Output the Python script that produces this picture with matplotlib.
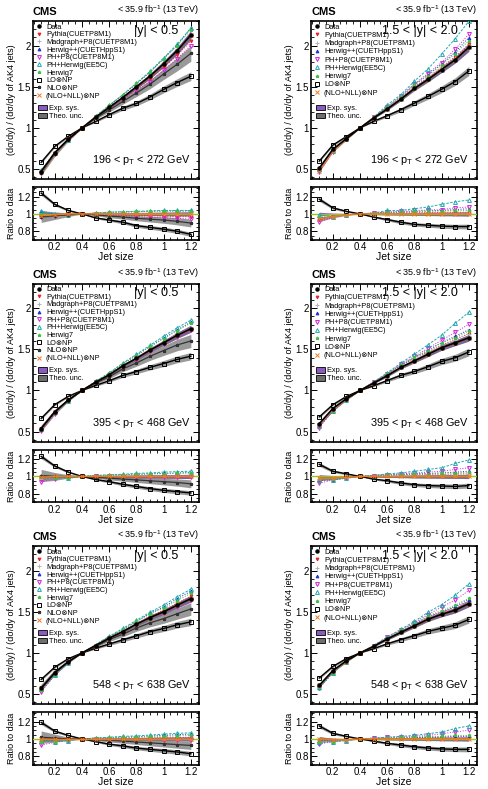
import matplotlib.pyplot as plt
import numpy as np
from matplotlib.ticker import MultipleLocator, FuncFormatter
from matplotlib.patches import Patch
from matplotlib.lines import Line2D

plt.rcParams['font.family'] = ['Liberation Sans', 'DejaVu Sans']

jet_size = [0.1, 0.2, 0.3, 0.4, 0.5, 0.6, 0.7, 0.8, 0.9, 1.0, 1.1, 1.2]

# relative uncertainties (half widths)
exp_sys = [0.02, 0.01, 0.005, 0.0, 0.006, 0.01, 0.012, 0.015, 0.017, 0.02, 0.022, 0.025]
lo_unc = [0.02, 0.015, 0.01, 0.0, 0.01, 0.015, 0.02, 0.022, 0.025, 0.028, 0.03, 0.032]
nlo_unc = [0.07, 0.045, 0.02, 0.0, 0.01, 0.02, 0.025, 0.03, 0.035, 0.04, 0.045, 0.05]
nll_unc = [0.03, 0.015, 0.008, 0.0, 0.008, 0.012, 0.015, 0.018, 0.02, 0.02, 0.02, 0.02]

# --- 196 < pT < 272, |y| < 0.5
a_data = [0.47, 0.70, 0.865, 1.0, 1.13, 1.25, 1.37, 1.50, 1.63, 1.78, 1.94, 2.13]
a_lo = [1.24, 1.11, 1.04, 1.0, 0.955, 0.93, 0.905, 0.865, 0.845, 0.825, 0.80, 0.765]
a_nlo = [0.97, 0.98, 0.99, 1.0, 0.99, 0.975, 0.965, 0.95, 0.94, 0.93, 0.915, 0.895]
a_nll = [0.98, 0.99, 1.0, 1.0, 1.0, 1.0, 1.0, 1.0, 1.0, 1.0, 1.0, 1.0]
a_pythia = [0.97, 0.98, 0.99, 1.0, 1.0, 0.995, 0.99, 0.985, 0.98, 0.975, 0.97, 0.965]
a_madgraph = [0.98, 0.99, 0.995, 1.0, 1.0, 1.0, 1.0, 1.0, 1.0, 1.0, 1.0, 1.0]
a_herwigpp = [1.03, 1.0, 0.99, 1.0, 1.01, 1.02, 1.02, 1.025, 1.03, 1.035, 1.035, 1.04]
a_php8 = [0.97, 0.98, 0.99, 1.0, 1.0, 0.99, 0.98, 0.97, 0.96, 0.955, 0.95, 0.94]
a_phherwig = [1.03, 1.0, 0.99, 1.0, 1.01, 1.02, 1.025, 1.03, 1.035, 1.04, 1.04, 1.04]
a_herwig7 = [1.0, 0.99, 0.99, 1.0, 1.01, 1.02, 1.025, 1.03, 1.03, 1.035, 1.03, 1.03]

# --- 196 < pT < 272, 1.5 < |y| < 2.0
b_data = [0.51, 0.74, 0.87, 1.0, 1.12, 1.23, 1.35, 1.48, 1.59, 1.71, 1.83, 1.98]
b_lo = [1.17, 1.07, 1.03, 1.0, 0.965, 0.935, 0.905, 0.88, 0.87, 0.86, 0.855, 0.855]
b_nll = [0.94, 0.97, 0.99, 1.0, 1.0, 1.0, 1.0, 1.0, 1.0, 1.0, 1.0, 1.0]
b_pythia = [0.93, 0.97, 0.99, 1.0, 1.005, 1.01, 1.01, 1.015, 1.015, 1.02, 1.02, 1.02]
b_madgraph = [0.97, 0.98, 0.99, 1.0, 1.0, 1.005, 1.01, 1.01, 1.01, 1.01, 1.01, 1.01]
b_herwigpp = [0.95, 0.97, 0.99, 1.0, 1.01, 1.02, 1.02, 1.03, 1.035, 1.04, 1.05, 1.06]
b_php8 = [0.91, 0.96, 0.99, 1.0, 1.01, 1.02, 1.03, 1.04, 1.045, 1.05, 1.07, 1.08]
b_phherwig = [0.99, 0.97, 0.99, 1.0, 1.01, 1.04, 1.04, 1.06, 1.08, 1.11, 1.14, 1.16]
b_herwig7 = [0.96, 0.97, 0.99, 1.0, 1.01, 1.02, 1.02, 1.03, 1.03, 1.035, 1.04, 1.04]

# --- 395 < pT < 468, |y| < 0.5
c_data = [0.537, 0.74, 0.885, 1.0, 1.10, 1.19, 1.30, 1.39, 1.49, 1.58, 1.67, 1.75]
c_lo = [1.23, 1.12, 1.05, 1.0, 0.965, 0.94, 0.91, 0.885, 0.86, 0.84, 0.825, 0.81]
c_nlo = [1.01, 1.0, 1.0, 1.0, 0.99, 0.98, 0.97, 0.96, 0.95, 0.94, 0.93, 0.915]
c_nll = [0.99, 1.0, 1.0, 1.0, 1.0, 1.0, 1.0, 1.0, 1.0, 1.0, 1.0, 1.0]
c_pythia = [0.97, 0.99, 0.99, 1.0, 1.0, 1.0, 1.0, 1.0, 1.0, 1.0, 1.0, 0.995]
c_madgraph = [0.97, 0.98, 0.99, 1.0, 1.0, 1.0, 1.0, 1.005, 1.005, 1.005, 1.005, 1.005]
c_herwigpp = [1.0, 0.99, 0.99, 1.0, 1.01, 1.015, 1.02, 1.025, 1.03, 1.035, 1.04, 1.045]
c_php8 = [0.94, 0.97, 0.99, 1.0, 1.0, 0.995, 0.995, 0.99, 0.99, 0.99, 0.99, 0.99]
c_phherwig = [1.0, 0.99, 0.98, 1.0, 1.01, 1.02, 1.025, 1.035, 1.04, 1.05, 1.055, 1.06]
c_herwig7 = [0.99, 0.98, 0.98, 1.0, 1.01, 1.015, 1.02, 1.025, 1.03, 1.03, 1.035, 1.04]

# --- 395 < pT < 468, 1.5 < |y| < 2.0
d_data = [0.595, 0.78, 0.90, 1.0, 1.09, 1.18, 1.28, 1.36, 1.44, 1.52, 1.58, 1.64]
d_lo = [1.14, 1.06, 1.03, 1.0, 0.97, 0.95, 0.925, 0.905, 0.895, 0.89, 0.885, 0.895]
d_nll = [0.98, 0.98, 0.99, 1.0, 1.0, 1.0, 1.0, 1.0, 1.0, 1.0, 1.0, 1.0]
d_pythia = [0.95, 0.97, 0.99, 1.0, 1.01, 1.01, 1.02, 1.02, 1.02, 1.02, 1.03, 1.03]
d_madgraph = [0.97, 0.98, 0.99, 1.0, 1.0, 1.01, 1.01, 1.01, 1.02, 1.02, 1.02, 1.03]
d_herwigpp = [0.96, 0.96, 0.99, 1.0, 1.01, 1.02, 1.02, 1.03, 1.035, 1.04, 1.05, 1.06]
d_php8 = [0.92, 0.96, 0.98, 1.0, 1.01, 1.02, 1.03, 1.04, 1.05, 1.06, 1.08, 1.10]
d_phherwig = [0.96, 0.96, 0.98, 1.0, 1.01, 1.03, 1.04, 1.06, 1.08, 1.10, 1.15, 1.19]
d_herwig7 = [0.97, 0.97, 0.99, 1.0, 1.01, 1.02, 1.02, 1.03, 1.03, 1.04, 1.04, 1.05]

# --- 548 < pT < 638, |y| < 0.5
e_data = [0.57, 0.76, 0.895, 1.0, 1.09, 1.18, 1.26, 1.35, 1.43, 1.50, 1.58, 1.66]
e_lo = [1.19, 1.09, 1.04, 1.0, 0.97, 0.94, 0.92, 0.895, 0.88, 0.865, 0.85, 0.83]
e_nlo = [1.02, 1.01, 1.0, 1.0, 0.99, 0.985, 0.975, 0.965, 0.955, 0.945, 0.935, 0.925]
e_nll = [1.0, 1.0, 1.0, 1.0, 1.0, 1.0, 1.0, 1.0, 1.0, 1.0, 1.0, 1.0]
e_pythia = [0.96, 0.98, 0.99, 1.0, 1.0, 1.005, 1.01, 1.01, 1.01, 1.015, 1.015, 1.02]
e_madgraph = [0.95, 0.97, 0.99, 1.0, 1.0, 1.0, 1.0, 1.0, 1.0, 1.0, 1.0, 1.0]
e_herwigpp = [0.99, 0.97, 0.99, 1.0, 1.01, 1.015, 1.02, 1.025, 1.035, 1.04, 1.05, 1.055]
e_php8 = [0.93, 0.96, 0.99, 1.0, 1.0, 1.0, 0.995, 0.995, 0.995, 0.99, 0.99, 0.99]
e_phherwig = [0.98, 0.97, 0.98, 1.0, 1.01, 1.02, 1.03, 1.035, 1.045, 1.055, 1.065, 1.07]
e_herwig7 = [0.97, 0.97, 0.99, 1.0, 1.01, 1.015, 1.02, 1.025, 1.03, 1.03, 1.035, 1.04]

# --- 548 < pT < 638, 1.5 < |y| < 2.0
f_data = [0.605, 0.785, 0.905, 1.0, 1.08, 1.17, 1.25, 1.33, 1.41, 1.47, 1.52, 1.60]
f_lo = [1.15, 1.065, 1.03, 1.0, 0.975, 0.95, 0.93, 0.91, 0.895, 0.885, 0.88, 0.88]
f_nll = [1.0, 0.99, 0.99, 1.0, 1.0, 1.0, 1.0, 1.0, 1.0, 1.0, 1.0, 1.0]
f_pythia = [0.98, 0.98, 0.99, 1.0, 1.0, 1.01, 1.01, 1.01, 1.02, 1.02, 1.02, 1.02]
f_madgraph = [0.96, 0.97, 0.99, 1.0, 1.0, 1.0, 1.01, 1.01, 1.01, 1.01, 1.02, 1.02]
f_herwigpp = [0.95, 0.97, 0.99, 1.0, 1.005, 1.01, 1.01, 1.015, 1.02, 1.02, 1.03, 1.03]
f_php8 = [0.94, 0.97, 0.99, 1.0, 1.01, 1.02, 1.02, 1.03, 1.04, 1.06, 1.08, 1.10]
f_phherwig = [0.96, 0.97, 0.98, 1.0, 1.01, 1.02, 1.03, 1.04, 1.06, 1.08, 1.12, 1.15]
f_herwig7 = [0.96, 0.97, 0.99, 1.0, 1.0, 1.01, 1.02, 1.02, 1.03, 1.03, 1.04, 1.04]

pt_labels = ['196 < p$_{\\mathregular{T}}$ < 272 GeV', '395 < p$_{\\mathregular{T}}$ < 468 GeV',
             '548 < p$_{\\mathregular{T}}$ < 638 GeV']
y_labels = ['|y| < 0.5', '1.5 < |y| < 2.0']

panels = [
    (0, 0, a_data, a_lo, a_nlo, a_nll, a_pythia, a_madgraph, a_herwigpp, a_php8, a_phherwig, a_herwig7),
    (0, 1, b_data, b_lo, None, b_nll, b_pythia, b_madgraph, b_herwigpp, b_php8, b_phherwig, b_herwig7),
    (1, 0, c_data, c_lo, c_nlo, c_nll, c_pythia, c_madgraph, c_herwigpp, c_php8, c_phherwig, c_herwig7),
    (1, 1, d_data, d_lo, None, d_nll, d_pythia, d_madgraph, d_herwigpp, d_php8, d_phherwig, d_herwig7),
    (2, 0, e_data, e_lo, e_nlo, e_nll, e_pythia, e_madgraph, e_herwigpp, e_php8, e_phherwig, e_herwig7),
    (2, 1, f_data, f_lo, None, f_nll, f_pythia, f_madgraph, f_herwigpp, f_php8, f_phherwig, f_herwig7),
]

# name, color, marker, markersize, mfc, linestyle
mc_styles = [
    ('Pythia(CUETP8M1)', '#e8202a', 'v', 2.0, None, ':'),
    ('Madgraph+P8(CUETP8M1)', '#b4b4b4', '+', 2.3, None, ':'),
    ('Herwig++(CUETHppS1)', '#2030d0', '^', 2.0, None, ':'),
    ('PH+P8(CUETP8M1)', '#d020d8', 'v', 2.8, 'none', ':'),
    ('PH+Herwig(EE5C)', '#20a8b0', '^', 2.8, 'none', (0, (2.5, 1.5))),
    ('Herwig7', '#40c040', '*', 2.3, None, ':'),
]

PURPLE = '#8a5cc0'
GRAY = '#6e6e6e'

W, H = 489, 789
fig = plt.figure(figsize=(W / 100, H / 100), dpi=100)

fmt = FuncFormatter(lambda v, p: '%g' % round(v, 3))


def style_ax(ax):
    ax.tick_params(which='both', direction='in', top=True, right=True, labelsize=7, pad=1.5)
    ax.tick_params(which='major', length=4, width=0.7)
    ax.tick_params(which='minor', length=2, width=0.6)
    for s in ax.spines.values():
        s.set_linewidth(1.2)
    ax.yaxis.set_major_formatter(fmt)
    ax.xaxis.set_major_formatter(fmt)


x = np.array(jet_size)
for row, col, data, lo, nlo, nll, *mcs in panels:
    data = np.array(data)
    left = 33 if col == 0 else 311
    top = 21 + 262.5 * row
    ax = fig.add_axes([left / W, 1 - (top + 158) / H, 166 / W, 158 / H])
    rax = fig.add_axes([left / W, 1 - (top + 219) / H, 166 / W, 53 / H])

    # bands
    e = np.array(exp_sys)
    ax.fill_between(x, data * (1 - e), data * (1 + e), color=PURPLE, lw=0, zorder=2)
    rax.fill_between(x, 1 - e, 1 + e, color=PURPLE, lw=0, zorder=2)
    theo = [(lo, lo_unc), (nll, nll_unc)]
    if nlo is not None:
        theo.append((nlo, nlo_unc))
    for r, u in theo:
        r = np.array(r)
        u = np.array(u)
        ax.fill_between(x, data * r * (1 - u), data * r * (1 + u), color=GRAY, alpha=0.7, lw=0, zorder=2)
        rax.fill_between(x, r * (1 - u), r * (1 + u), color=GRAY, alpha=0.7, lw=0, zorder=2)

    rax.axhline(1.0, color='#a0c020', lw=1.0, zorder=3)

    # MC predictions
    for (name, c, m, ms, mfc, ls), r in zip(mc_styles, mcs):
        r = np.array(r)
        kw = dict(color=c, marker=m, ms=ms, lw=0.7, ls=ls, mew=0.7, zorder=4)
        if mfc is not None:
            kw['mfc'] = mfc
        ax.plot(x, data * r, **kw)
        rax.plot(x, r, **kw)

    # theory lines
    lo = np.array(lo)
    ax.plot(x, data * lo, color='black', marker='s', ms=2.6, mfc='none', mew=0.7, lw=1.0, zorder=5)
    rax.plot(x, lo, color='black', marker='s', ms=2.6, mfc='none', mew=0.7, lw=1.0, zorder=5)
    if nlo is not None:
        nlo = np.array(nlo)
        ax.plot(x, data * nlo, color='#333333', marker='*', ms=2.2, lw=0.9, zorder=5)
        rax.plot(x, nlo, color='#333333', marker='*', ms=2.2, lw=0.9, zorder=5)
    nll = np.array(nll)
    ax.plot(x, data * nll, color='#f07820', marker='x', ms=2.2, mew=0.7, lw=1.0, zorder=5)
    rax.plot(x, nll, color='#f07820', marker='x', ms=2.2, mew=0.7, lw=1.0, zorder=5)

    # data
    ax.plot(x, data, color='black', marker='o', ms=2.2, lw=1.2, zorder=6)

    ax.set_xlim(0.04, 1.26)
    rax.set_xlim(0.04, 1.26)
    ax.set_ylim(0.38, 2.3)
    rax.set_ylim(0.7, 1.31)
    ax.xaxis.set_major_locator(MultipleLocator(0.2))
    ax.xaxis.set_minor_locator(MultipleLocator(0.05))
    rax.xaxis.set_major_locator(MultipleLocator(0.2))
    rax.xaxis.set_minor_locator(MultipleLocator(0.05))
    ax.yaxis.set_major_locator(MultipleLocator(0.5))
    ax.yaxis.set_minor_locator(MultipleLocator(0.1))
    rax.yaxis.set_major_locator(MultipleLocator(0.2))
    rax.yaxis.set_minor_locator(MultipleLocator(0.05))
    style_ax(ax)
    style_ax(rax)
    ax.tick_params(labelbottom=False)

    ax.set_ylabel('(d\u03c3/dy) / (d\u03c3/dy of AK4 jets)', fontsize=6.5)
    rax.set_ylabel('Ratio to data', fontsize=6.5)
    rax.set_xlabel('Jet size', fontsize=7.5, labelpad=0)
    ax.yaxis.set_label_coords(-0.105, 0.5)
    rax.yaxis.set_label_coords(-0.105, 0.5)

    ax.text(0.0, 1.025, 'CMS', transform=ax.transAxes, fontsize=8, fontweight='bold', va='bottom', ha='left')
    ax.text(1.0, 1.025, '< 35.9 fb$^{\\mathregular{-1}}$ (13 TeV)', transform=ax.transAxes,
            fontsize=6.5, va='bottom', ha='right')
    ax.text(0.875 if col == 0 else 0.885, 0.975, y_labels[col], transform=ax.transAxes,
            fontsize=9, va='top', ha='right')
    ax.text(0.95, 0.075, pt_labels[row], transform=ax.transAxes, fontsize=7.8, va='bottom', ha='right')

    # legend
    handles = [Line2D([], [], color='black', marker='o', ms=2.2, ls='none')]
    labels = ['Data']
    for name, c, m, ms, mfc, ls in mc_styles:
        kw = dict(color=c, marker=m, ms=ms, ls='none', mew=0.7)
        if mfc is not None:
            kw['mfc'] = mfc
        handles.append(Line2D([], [], **kw))
        labels.append(name)
    handles.append(Line2D([], [], color='black', marker='s', ms=2.6, mfc='none', mew=0.7, ls='none'))
    labels.append('LO\u2297NP')
    if col == 0:
        handles.append(Line2D([], [], color='#333333', marker='*', ms=2.2, ls='none'))
        labels.append('NLO\u2297NP')
    handles.append(Line2D([], [], color='#f07820', marker='x', ms=2.2, mew=0.7, ls='none'))
    labels.append('(NLO+NLL)\u2297NP')
    leg = ax.legend(handles, labels, loc='upper left', bbox_to_anchor=(0.0, 1.0), fontsize=5.3,
                    frameon=False, handlelength=1.0, handleheight=0.6, handletextpad=0.4,
                    labelspacing=0.09 if col == 0 else 0.17,
                    borderpad=0.2, borderaxespad=0.15)
    ax.add_artist(leg)
    band_handles = [Patch(facecolor=PURPLE, edgecolor='black', lw=0.6),
                    Patch(facecolor=GRAY, edgecolor='black', lw=0.6)]
    ax.legend(band_handles, ['Exp. sys.', 'Theo. unc.'], loc='upper left',
              bbox_to_anchor=(0.02, 0.48), fontsize=5.3, frameon=False,
              handlelength=1.2, handleheight=0.75, handletextpad=0.3, labelspacing=0.1,
              borderpad=0.1, borderaxespad=0.1)

fig.savefig('out.png', dpi=100)
